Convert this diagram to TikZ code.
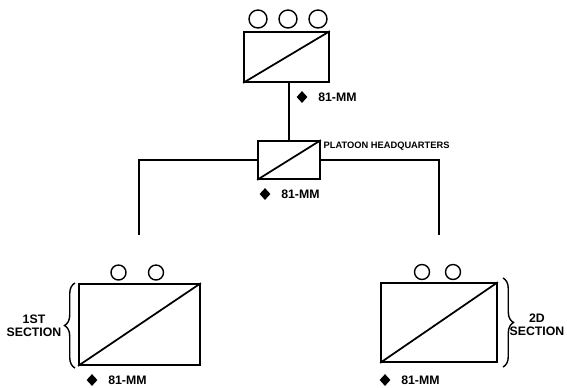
\documentclass[tikz,border=0pt]{standalone}
\usepackage{fontspec}
\setmainfont{Liberation Sans}
\usetikzlibrary{positioning,shapes.geometric,decorations.pathreplacing}
\tikzset{
  unitbox/.style={draw, line width=1pt, inner sep=0pt},
  gun/.style={circle, draw, line width=0.8pt, inner sep=0pt},
  shell/.style={diamond, fill=black, inner sep=0pt, minimum width=0.23cm, minimum height=0.25cm},
  lbl/.style={font=\bfseries\fontsize{7}{7.6}\selectfont, inner sep=1pt},
}
\begin{document}
\begin{tikzpicture}[x=0.02cm, y=-0.02cm, line width=1pt]
    \useasboundingbox (0,0) rectangle (567,387);
    % company mortar unit
    \node[unitbox, minimum width=1.7cm, minimum height=1cm] (top) at (286.5,57) {};
    \draw (top.south west) -- (top.north east);
    \foreach \x/\n in {258/a,288/b,318/c}
      \node[gun, minimum size=0.36cm] (tc\n) at (\x,19) {};
    \node[shell] (d0) at (302,97) {};
    \node[lbl, right=0.14cm of d0] (t0) {81-MM};
    % platoon headquarters
    \node[unitbox, minimum width=1.24cm, minimum height=0.76cm] (phq) at (289,160) {};
    \draw (phq.south west) -- (phq.north east);
    \draw (phq.north) -- (phq.north |- top.south);
    \node[lbl, font=\bfseries\fontsize{5.3}{6}\selectfont, anchor=south west] (phqt) at (321,153) {PLATOON HEADQUARTERS};
    \node[shell] (d1) at (265,194) {};
    \node[lbl, right=0.14cm of d1] (t1) {81-MM};
    % branches
    \coordinate (lend) at (139,235);
    \coordinate (rend) at (439,235);
    \draw (phq.west) -| (lend);
    \draw (phq.east) -| (rend);
    % 1st section
    \node[unitbox, minimum width=2.42cm, minimum height=1.62cm] (sec1) at (139.5,324.5) {};
    \draw (sec1.south west) -- (sec1.north east);
    \node[gun, minimum size=0.3cm] (s1a) at (118.5,272.5) {};
    \node[gun, minimum size=0.3cm] (s1b) at (156,272.5) {};
    \draw[line width=0.8pt, decorate, decoration={brace, amplitude=6}] (75,368) -- (75,283);
    \node[lbl, align=center] (s1t) at (34,326) {1ST\\SECTION};
    \node[shell] (d2) at (92,380) {};
    \node[lbl, right=0.14cm of d2] (t2) {81-MM};
    % 2d section
    \node[unitbox, minimum width=2.32cm, minimum height=1.58cm] (sec2) at (439,322.5) {};
    \draw (sec2.south west) -- (sec2.north east);
    \node[gun, minimum size=0.3cm] (s2a) at (422,272) {};
    \node[gun, minimum size=0.3cm] (s2b) at (453,272) {};
    \draw[line width=0.8pt, decorate, decoration={brace, amplitude=6}] (503,278) -- (503,367);
    \node[lbl, align=center] (s2t) at (537,325) {2D\\SECTION};
    \node[shell] (d3) at (385,380) {};
    \node[lbl, right=0.14cm of d3] (t3) {81-MM};
\end{tikzpicture}
\end{document}
